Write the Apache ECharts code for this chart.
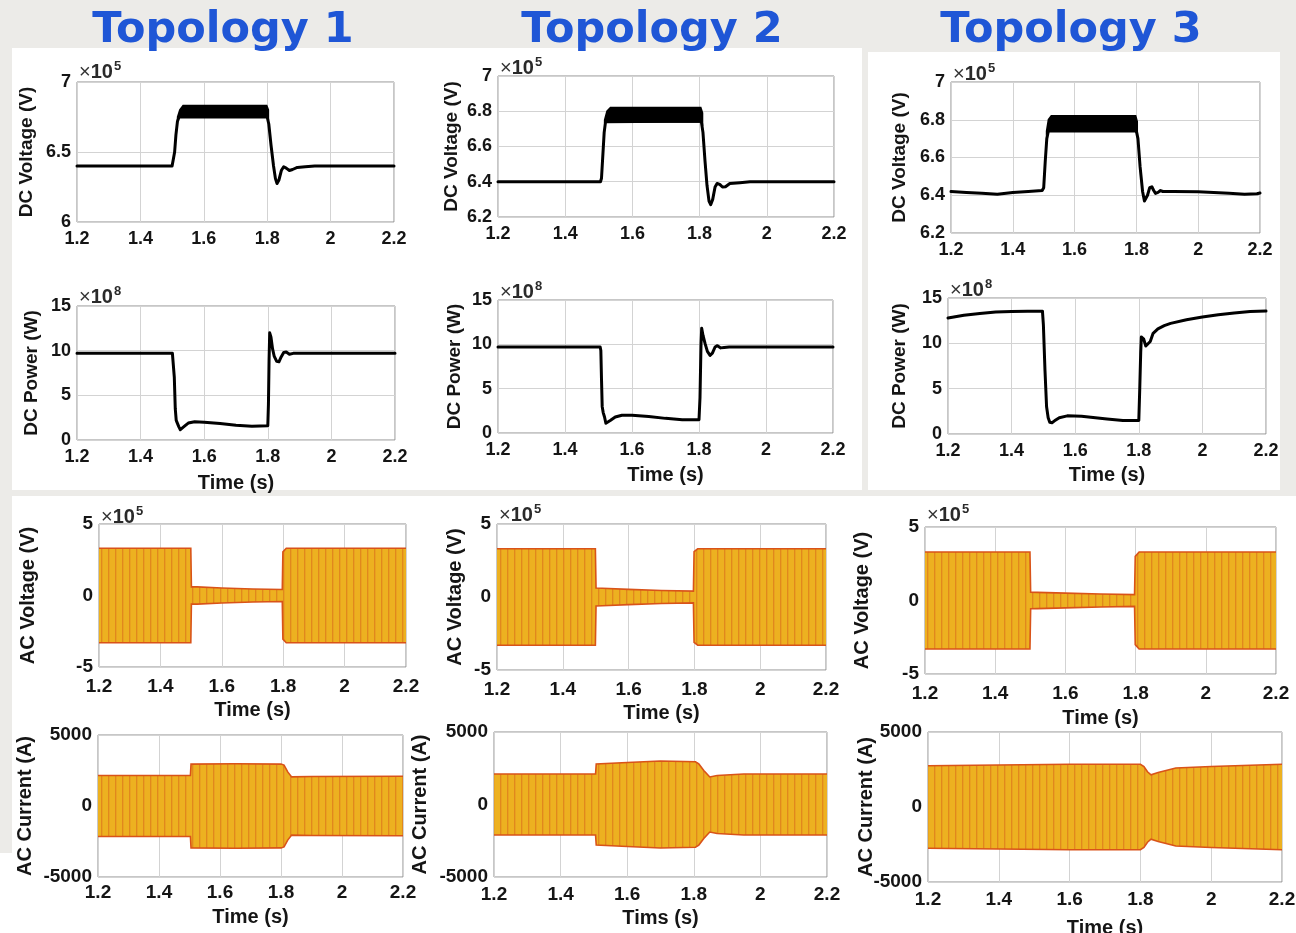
<!DOCTYPE html>
<html>
<head>
<meta charset="utf-8">
<script src="https://cdn.jsdelivr.net/npm/echarts@6/dist/echarts.min.js"></script>
<style>
  html, body { margin: 0; padding: 0; background: #ecebe8; }
  #chart { width: 1296px; height: 933px; }
</style>
</head>
<body>
<div id="chart"></div>
<script>
// ---------------- data ----------------
const topologyTitles = ['Topology 1', 'Topology 2', 'Topology 3'];
const yAxisNames = ['DC Voltage (V)', 'DC Power (W)', 'AC Voltage (V)', 'AC Current (A)'];
const xAxisNames = [
  [null, null, null],
  ['Time (s)', 'Time (s)', 'Time (s)'],
  ['Time (s)', 'Time (s)', 'Time (s)'],
  ['Time (s)', 'Tims (s)', 'Time (s)']
];
const exponentLabels = ['5', '8', '5', null];   // ×10^n shown above each row's axes

// DC link voltage, [time s, ×10^5 V]
const dcVoltage1 = [[1.20,6.40],[1.30,6.40],[1.40,6.40],[1.50,6.40],[1.504,6.41],[1.508,6.50],[1.512,6.62],[1.517,6.72],[1.522,6.75],[1.80,6.75],
  [1.805,6.70],[1.812,6.55],[1.82,6.40],[1.826,6.31],[1.831,6.275],[1.837,6.30],[1.845,6.37],[1.852,6.395],[1.86,6.385],[1.87,6.368],
  [1.88,6.375],[1.895,6.39],[1.92,6.395],[1.95,6.40],[2.20,6.40]];
const dcVoltage2 = [[1.20,6.40],[1.30,6.40],[1.40,6.40],[1.505,6.40],[1.508,6.42],[1.512,6.55],[1.516,6.68],[1.52,6.74],[1.525,6.745],[1.805,6.745],
  [1.81,6.68],[1.816,6.52],[1.822,6.38],[1.828,6.29],[1.833,6.27],[1.839,6.30],[1.846,6.37],[1.852,6.39],[1.86,6.385],[1.868,6.37],
  [1.877,6.372],[1.89,6.39],[1.92,6.395],[1.95,6.40],[2.20,6.40]];
const dcVoltage3 = [[1.20,6.42],[1.25,6.415],[1.30,6.41],[1.35,6.405],[1.40,6.415],[1.45,6.42],[1.495,6.425],[1.50,6.44],[1.505,6.58],[1.51,6.70],
  [1.515,6.74],[1.80,6.74],[1.805,6.70],[1.812,6.55],[1.82,6.42],[1.826,6.37],[1.83,6.368],[1.836,6.40],[1.843,6.44],[1.85,6.445],
  [1.856,6.425],[1.862,6.41],[1.87,6.415],[1.878,6.425],[1.886,6.42],[1.92,6.42],[2.00,6.418],[2.05,6.415],[2.10,6.41],[2.15,6.405],
  [2.19,6.408],[2.20,6.412]];

// switching ripple on the DC voltage, [time s, upper, lower] (×10^5 V)
const dcRipple1 = [[1.518,6.75,6.74],[1.525,6.80,6.75],[1.535,6.83,6.75],[1.70,6.83,6.75],[1.798,6.83,6.75],[1.803,6.80,6.74]];
const dcRipple2 = [[1.518,6.75,6.74],[1.525,6.80,6.74],[1.535,6.82,6.74],[1.70,6.82,6.74],[1.803,6.82,6.74],[1.808,6.79,6.73]];
const dcRipple3 = [[1.51,6.74,6.73],[1.516,6.80,6.74],[1.525,6.82,6.74],[1.70,6.82,6.74],[1.797,6.82,6.74],[1.802,6.79,6.73]];

// DC power, [time s, ×10^8 W]
const dcPower1 = [[1.20,9.7],[1.50,9.7],[1.503,9.5],[1.506,7.0],[1.509,3.5],[1.512,2.2],[1.516,2.0],[1.52,1.5],[1.525,1.15],[1.53,1.2],
  [1.54,1.6],[1.55,1.9],[1.57,2.05],[1.60,2.0],[1.65,1.85],[1.70,1.65],[1.75,1.55],[1.80,1.6],[1.802,4.0],[1.804,9.0],
  [1.806,12.0],[1.81,11.5],[1.815,10.2],[1.82,9.4],[1.828,8.8],[1.835,8.75],[1.842,9.3],[1.85,9.8],[1.858,9.85],[1.868,9.6],
  [1.88,9.7],[2.20,9.7]];
const dcPower2 = [[1.20,9.7],[1.505,9.7],[1.507,9.3],[1.509,6.0],[1.511,3.0],[1.514,2.3],[1.518,1.8],[1.522,1.1],[1.527,1.05],[1.535,1.4],
  [1.55,1.8],[1.57,2.0],[1.60,2.0],[1.65,1.85],[1.70,1.65],[1.75,1.5],[1.80,1.5],[1.803,4.0],[1.806,10.0],[1.808,11.8],
  [1.812,11.0],[1.818,10.1],[1.825,9.2],[1.833,8.75],[1.84,9.0],[1.848,9.7],[1.855,9.85],[1.865,9.6],[1.875,9.65],[1.89,9.7],
  [2.20,9.7]];
const dcPower3 = [[1.20,12.8],[1.25,13.1],[1.30,13.3],[1.35,13.45],[1.40,13.5],[1.45,13.55],[1.497,13.55],[1.50,12.0],[1.505,7.0],[1.51,3.0],
  [1.515,1.8],[1.52,1.3],[1.527,1.25],[1.535,1.45],[1.55,1.8],[1.575,2.0],[1.62,1.95],[1.70,1.65],[1.75,1.5],[1.80,1.5],
  [1.803,5.0],[1.806,9.0],[1.808,10.7],[1.815,10.5],[1.822,9.7],[1.828,9.6],[1.836,10.2],[1.845,11.1],[1.86,11.6],[1.88,11.95],
  [1.90,12.2],[1.95,12.6],[2.00,12.9],[2.05,13.15],[2.10,13.35],[2.15,13.5],[2.20,13.57]];

// AC voltage peak envelope, [time s, peak ×10^5 V]
const acVoltagePeak1 = [[1.20,3.3],[1.499,3.3],[1.501,0.6],[1.52,0.6],[1.60,0.52],[1.70,0.45],[1.797,0.42],[1.799,3.05],[1.81,3.3],[2.20,3.3]];
const acVoltagePeak2 = [[1.20,3.3],[1.499,3.3],[1.501,0.62],[1.52,0.6],[1.60,0.52],[1.70,0.45],[1.797,0.4],[1.799,3.1],[1.81,3.3],[2.20,3.3]];
const acVoltagePeak3 = [[1.20,3.3],[1.499,3.3],[1.501,0.56],[1.52,0.55],[1.60,0.5],[1.70,0.44],[1.797,0.4],[1.799,3.0],[1.81,3.3],[2.20,3.3]];

// AC current peak envelope, [time s, peak A]
const acCurrentPeak1 = [[1.20,2150],[1.503,2150],[1.505,2950],[1.65,2980],[1.80,2950],[1.81,2880],[1.822,2400],[1.835,2050],[1.90,2080],[2.20,2100]];
const acCurrentPeak2 = [[1.20,2100],[1.505,2100],[1.507,2800],[1.60,2900],[1.70,3000],[1.805,2950],[1.815,2800],[1.83,2350],[1.848,1900],[1.87,2000],[1.95,2100],[2.20,2100]];
const acCurrentPeak3 = [[1.20,2750],[1.40,2800],[1.60,2850],[1.80,2850],[1.81,2700],[1.82,2350],[1.83,2150],[1.85,2300],[1.90,2600],[2.00,2700],[2.20,2850]];

// ---------------- layout ----------------
// plot frames [left, top, width, height] for rows (DC V, DC P, AC V, AC I) x columns
const frames = [
  [[77, 82, 317, 140], [498, 76, 336, 141], [951, 82, 309, 151]],
  [[77, 306, 318, 134], [498, 300, 335, 133], [948, 298, 318, 136]],
  [[99, 524, 307, 143], [497, 524, 329, 146], [925, 527, 351, 147]],
  [[98, 735, 305, 142], [494, 732, 333, 145], [928, 732, 354, 150]]
];
const yNameGaps = [[50, 46, 51], [45, 43, 48], [71, 42, 63], [73, 74, 62]];
const xNameGaps = [[0, 0, 0], [43, 42, 41], [43, 43, 44], [40, 41, 46]];
const xLabelMargins = [[8, 8, 8], [8, 8, 8], [10, 10, 10], [6, 8, 8]];
const expOffsets = [[-10, -8, -8], [-9, -8, -8], [-7, -9, -12], [0, 0, 0]];

const FONT = 'Liberation Sans, Arial, Helvetica, sans-serif';
const LINE_BLACK = '#000000';
const AC_FILL = '#EDB120';
const AC_EDGE = '#D95319';

// orange fill with darker vertical streaks, as left by the dense sinusoid
function streakFill() {
  const c = document.createElement('canvas');
  c.width = 7; c.height = 8;
  const g = c.getContext('2d');
  g.fillStyle = AC_FILL; g.fillRect(0, 0, 7, 8);
  g.fillStyle = 'rgba(214,95,25,0.5)'; g.fillRect(3, 0, 1, 8);
  g.fillStyle = 'rgba(214,95,25,0.18)'; g.fillRect(4, 0, 1, 8);
  return { type: 'pattern', image: c, repeat: 'repeat' };
}
const acPattern = streakFill();

const yRanges = [
  [{ min: 6, max: 7, interval: 0.5 }, { min: 6.2, max: 7, interval: 0.2 }, { min: 6.2, max: 7, interval: 0.2 }],
  [{ min: 0, max: 15, interval: 5 }, { min: 0, max: 15, interval: 5 }, { min: 0, max: 15, interval: 5 }],
  [{ min: -5, max: 5, interval: 5 }, { min: -5, max: 5, interval: 5 }, { min: -5, max: 5, interval: 5 }],
  [{ min: -5000, max: 5000, interval: 5000 }, { min: -5000, max: 5000, interval: 5000 }, { min: -5000, max: 5000, interval: 5000 }]
];

const dcVoltages = [dcVoltage1, dcVoltage2, dcVoltage3];
const dcRipples = [dcRipple1, dcRipple2, dcRipple3];
const dcPowers = [dcPower1, dcPower2, dcPower3];
const acVoltages = [acVoltagePeak1, acVoltagePeak2, acVoltagePeak3];
const acCurrents = [acCurrentPeak1, acCurrentPeak2, acCurrentPeak3];

const grids = [], xAxes = [], yAxes = [], series = [], graphics = [];

// panel backgrounds
[[12, 48, 850, 442], [868, 52, 412, 438], [12, 496, 1284, 437], [0, 853, 12, 80]].forEach(r => {
  graphics.push({ type: 'rect', z: -10, silent: true,
    shape: { x: r[0], y: r[1], width: r[2], height: r[3] }, style: { fill: '#ffffff' } });
});

// column titles
[223, 652, 1071].forEach((cx, i) => {
  graphics.push({ type: 'text', z: 10, silent: true, x: cx, y: 31,
    style: { text: topologyTitles[i], font: 'bold 43px "DejaVu Sans", Verdana, sans-serif',
      fill: '#1f56d6', align: 'center', verticalAlign: 'middle' } });
});

// band between upper/lower bounds, drawn through the axis scales
function bandSeries(gi, rows, fill, edge) {
  return {
    type: 'custom', xAxisIndex: gi, yAxisIndex: gi, silent: true, z: 3,
    data: [[rows[0][0], rows[0][1]]],
    encode: { x: 0, y: 1 },
    renderItem: function (params, api) {
      const up = rows.map(p => api.coord([p[0], p[1]]));
      const lo = rows.map(p => api.coord([p[0], p[2]]));
      const children = [{
        type: 'polygon', shape: { points: up.concat(lo.slice().reverse()) },
        style: { fill: fill, stroke: edge ? null : fill, lineWidth: edge ? 0 : 2 }
      }];
      if (edge) {
        children.push({ type: 'polyline', shape: { points: up }, style: { stroke: edge, lineWidth: 1.6, fill: null } });
        children.push({ type: 'polyline', shape: { points: lo }, style: { stroke: edge, lineWidth: 1.6, fill: null } });
      }
      return { type: 'group', children: children };
    }
  };
}

function lineSeries(gi, data) {
  return {
    type: 'line', xAxisIndex: gi, yAxisIndex: gi, data: data, showSymbol: false, symbol: 'none',
    silent: true, animation: false, z: 4, clip: true,
    lineStyle: { color: LINE_BLACK, width: 3, join: 'round', cap: 'round' }
  };
}

let gi = 0;
for (let r = 0; r < 4; r++) {
  for (let c = 0; c < 3; c++) {
    const f = frames[r][c];
    const big = r >= 2;
    grids.push({ left: f[0], top: f[1], width: f[2], height: f[3], show: true,
      backgroundColor: '#ffffff', borderColor: '#8f8f8f', borderWidth: 1,
      containLabel: false, outerBoundsMode: 'none' });

    xAxes.push({
      type: 'value', gridIndex: gi, min: 1.2, max: 2.2, interval: 0.2,
      axisLine: { show: false }, axisTick: { show: false },
      splitLine: { show: true, lineStyle: { color: '#d3d3d3', width: 1 } },
      axisLabel: { show: true, showMinLabel: true, showMaxLabel: true, margin: xLabelMargins[r][c],
        fontFamily: FONT, fontWeight: 'bold', fontSize: big ? 19 : 18, color: '#151515',
        formatter: v => String(+v.toFixed(1)) },
      name: xAxisNames[r][c] || '', nameLocation: 'middle', nameGap: xNameGaps[r][c], nameMoveOverlap: false,
      nameTextStyle: { fontFamily: FONT, fontWeight: 'bold', fontSize: 20, color: '#151515', verticalAlign: 'middle' }
    });

    const yr = yRanges[r][c];
    yAxes.push({
      type: 'value', gridIndex: gi, min: yr.min, max: yr.max, interval: yr.interval,
      axisLine: { show: false }, axisTick: { show: false },
      splitLine: { show: true, lineStyle: { color: '#d3d3d3', width: 1 } },
      axisLabel: { show: true, showMinLabel: true, showMaxLabel: true, margin: 6,
        fontFamily: FONT, fontWeight: 'bold', fontSize: big ? 19 : 18, color: '#151515',
        formatter: v => String(+v.toFixed(2)) },
      name: yAxisNames[r], nameLocation: 'middle', nameGap: yNameGaps[r][c], nameMoveOverlap: false,
      nameTextStyle: { fontFamily: FONT, fontWeight: 'bold', fontSize: big ? 20 : 19, color: '#151515', verticalAlign: 'middle' }
    });

    if (r === 0) {
      series.push(bandSeries(gi, dcRipples[c], LINE_BLACK, null));
      series.push(lineSeries(gi, dcVoltages[c]));
    } else if (r === 1) {
      series.push(lineSeries(gi, dcPowers[c]));
    } else {
      const env = (r === 2 ? acVoltages : acCurrents)[c];
      series.push(bandSeries(gi, env.map(p => [p[0], p[1], -p[1]]), acPattern, AC_EDGE));
    }

    if (exponentLabels[r]) {
      graphics.push({ type: 'text', z: 10, silent: true, x: f[0] + 2, y: f[1] + expOffsets[r][c],
        style: { text: '{a|×}{c|10}{b|' + exponentLabels[r] + '}', verticalAlign: 'middle', align: 'left',
          rich: {
            a: { fontFamily: FONT, fontSize: 20, fontWeight: 'normal', fill: '#333333', color: '#333333' },
            c: { fontFamily: FONT, fontSize: 20, fontWeight: 'bold', fill: '#2a2a2a', color: '#2a2a2a' },
            b: { fontFamily: FONT, fontSize: 13, fontWeight: 'bold', fill: '#2a2a2a', color: '#2a2a2a', verticalAlign: 'top', padding: [0, 0, 11, 1] }
          } } });
    }
    gi++;
  }
}

const chart = echarts.init(document.getElementById('chart'), null, { renderer: 'canvas' });
chart.setOption({
  backgroundColor: '#ecebe8',
  animation: false,
  grid: grids,
  xAxis: xAxes,
  yAxis: yAxes,
  series: series,
  graphic: { elements: graphics }
});
</script>
</body>
</html>
